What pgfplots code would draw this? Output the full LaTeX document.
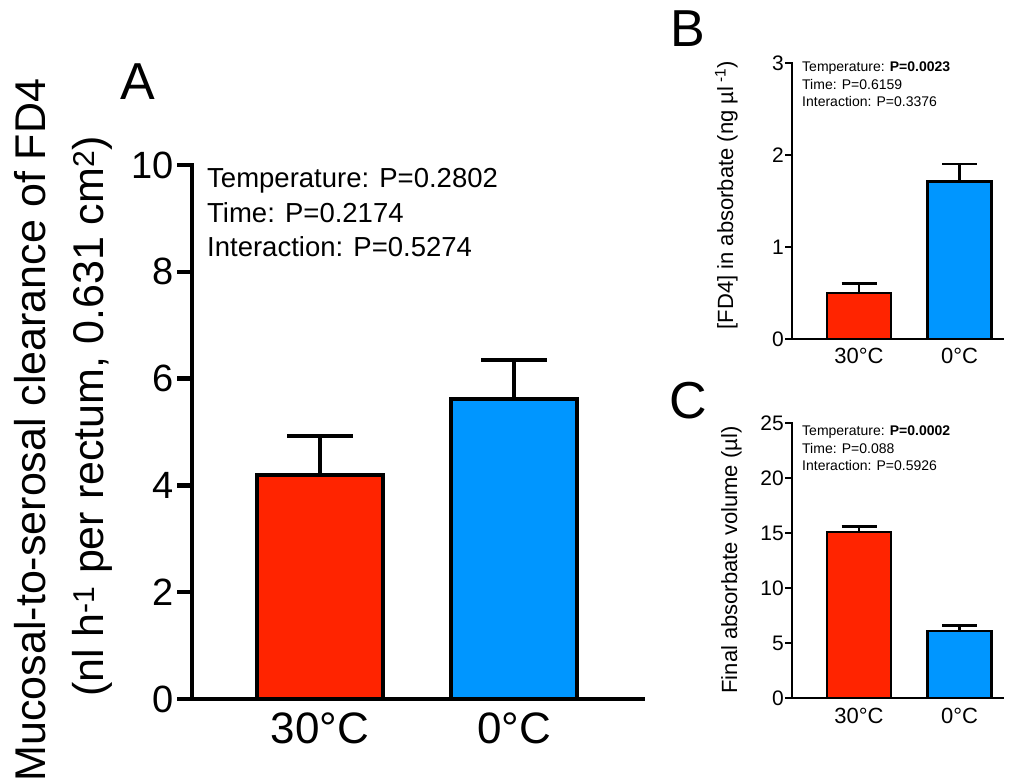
\documentclass[border=0pt]{standalone}
\usepackage{fontspec}
\setmainfont{Liberation Sans}
\usepackage{pgfplots}
\pgfplotsset{compat=1.18}
\definecolor{barred}{RGB}{255,36,0}
\definecolor{barblue}{RGB}{0,150,255}
\newcommand{\fs}[1]{\fontsize{#1bp}{#1bp}\selectfont}
\begin{document}
\begin{tikzpicture}[x=1bp,y=1bp]
\path[use as bounding box] (0,0) rectangle (1019,782);

% ---------------- Panel A ----------------
\begin{axis}[at={(192bp,83bp)}, anchor=south west, scale only axis,
 width=451bp, height=534bp,
 xmin=-0.66, xmax=1.665, ymin=0, ymax=10,
 axis x line=bottom, axis y line=left,
 axis line style={-, black, line width=4.5bp, line cap=rect},
 xtick={0,1}, xticklabels={30°C,0°C}, ytick={0,2,4,6,8,10},
 tick align=outside, major tick length=15bp,
 xtick style={draw=none}, ytick style={black, line width=4.5bp},
 /pgf/number format/assume math mode=true,
 yticklabel style={font=\fs{38}, inner sep=3bp},
 xticklabel style={font=\fs{44}, inner sep=0pt, yshift=1bp},
 clip=false]
\addplot[ybar, bar shift=0pt, bar width=0.65, fill=barred, draw=black, line width=4bp,
 error bars/.cd, y dir=plus, y explicit,
 error bar style={line width=4bp, black},
 error mark options={rotate=90, mark size=33bp, line width=4bp, black}]
 coordinates {(0,4.19) +- (0,0.74)};
\addplot[ybar, bar shift=0pt, bar width=0.65, fill=barblue, draw=black, line width=4bp,
 error bars/.cd, y dir=plus, y explicit,
 error bar style={line width=4bp, black},
 error mark options={rotate=90, mark size=33bp, line width=4bp, black}]
 coordinates {(1,5.61) +- (0,0.74)};
\end{axis}

% ---------------- Panel B ----------------
\begin{axis}[at={(792bp,443bp)}, anchor=south west, scale only axis,
 width=211bp, height=276bp,
 xmin=-0.667, xmax=1.433, ymin=0, ymax=3,
 axis x line=bottom, axis y line=left,
 axis line style={-, black, line width=2.5bp, line cap=rect},
 xtick={0,1}, xticklabels={30°C,0°C}, ytick={0,1,2,3},
 tick align=outside, major tick length=7bp,
 xtick style={draw=none}, ytick style={black, line width=2.5bp},
 /pgf/number format/assume math mode=true,
 yticklabel style={font=\fs{21}, inner sep=1bp},
 xticklabel style={font=\fs{22}, inner sep=0pt, yshift=-2bp},
 clip=false]
\addplot[ybar, bar shift=0pt, bar width=0.64, fill=barred, draw=black, line width=2.5bp,
 error bars/.cd, y dir=plus, y explicit,
 error bar style={line width=2.5bp, black},
 error mark options={rotate=90, mark size=17.5bp, line width=2.5bp, black}]
 coordinates {(0,0.50) +- (0,0.105)};
\addplot[ybar, bar shift=0pt, bar width=0.64, fill=barblue, draw=black, line width=2.5bp,
 error bars/.cd, y dir=plus, y explicit,
 error bar style={line width=2.5bp, black},
 error mark options={rotate=90, mark size=17.5bp, line width=2.5bp, black}]
 coordinates {(1,1.71) +- (0,0.19)};
\end{axis}

% ---------------- Panel C ----------------
\begin{axis}[at={(792bp,84bp)}, anchor=south west, scale only axis,
 width=211bp, height=275bp,
 xmin=-0.667, xmax=1.433, ymin=0, ymax=25,
 axis x line=bottom, axis y line=left,
 axis line style={-, black, line width=2.5bp, line cap=rect},
 xtick={0,1}, xticklabels={30°C,0°C}, ytick={0,5,10,15,20,25},
 tick align=outside, major tick length=7bp,
 xtick style={draw=none}, ytick style={black, line width=2.5bp},
 /pgf/number format/assume math mode=true,
 yticklabel style={font=\fs{21}, inner sep=1bp},
 xticklabel style={font=\fs{22}, inner sep=0pt, yshift=-3bp},
 clip=false]
\addplot[ybar, bar shift=0pt, bar width=0.64, fill=barred, draw=black, line width=2.5bp,
 error bars/.cd, y dir=plus, y explicit,
 error bar style={line width=2.5bp, black},
 error mark options={rotate=90, mark size=17.5bp, line width=2.5bp, black}]
 coordinates {(0,15.08) +- (0,0.52)};
\addplot[ybar, bar shift=0pt, bar width=0.64, fill=barblue, draw=black, line width=2.5bp,
 error bars/.cd, y dir=plus, y explicit,
 error bar style={line width=2.5bp, black},
 error mark options={rotate=90, mark size=17.5bp, line width=2.5bp, black}]
 coordinates {(1,6.10) +- (0,0.48)};
\end{axis}

% ---------------- Texts ----------------
\node[anchor=base, font=\fs{52}, inner sep=0] at (138,682) {A};
\node[anchor=base, font=\fs{52}, inner sep=0] at (688,735) {B};
\node[anchor=base, font=\fs{52}, inner sep=0] at (688,363) {C};

\node[anchor=base, rotate=90, font=\fs{43}, inner sep=0] at (45,352) {Mucosal-to-serosal clearance of FD4};
\node[anchor=base, rotate=90, font=\fs{43}, inner sep=0] at (103,365.5) {(nl h\textsuperscript{-1} per rectum, 0.631 cm\textsuperscript{2})};
\node[anchor=base, rotate=90, font=\fs{22}, inner sep=0] at (733,587) {[FD4] in absorbate (ng µl\textsuperscript{ -1})};
\node[anchor=base, rotate=90, font=\fs{22}, inner sep=0] at (737,222) {Final absorbate volume (µl)};

\node[anchor=base west, font=\fs{27.5}, inner sep=0] at (207,594) {Temperature: P=0.2802};
\node[anchor=base west, font=\fs{27.5}, inner sep=0] at (207,559.5) {Time: P=0.2174};
\node[anchor=base west, font=\fs{27.5}, inner sep=0] at (207,525) {Interaction: P=0.5274};

\node[anchor=base west, font=\fs{14}, inner sep=0] at (802,710) {Temperature: \textbf{P=0.0023}};
\node[anchor=base west, font=\fs{14}, inner sep=0] at (802,692.5) {Time: P=0.6159};
\node[anchor=base west, font=\fs{14}, inner sep=0] at (802,675) {Interaction: P=0.3376};

\node[anchor=base west, font=\fs{14}, inner sep=0] at (802,346) {Temperature: \textbf{P=0.0002}};
\node[anchor=base west, font=\fs{14}, inner sep=0] at (802,328.5) {Time: P=0.088};
\node[anchor=base west, font=\fs{14}, inner sep=0] at (802,311) {Interaction: P=0.5926};
\end{tikzpicture}
\end{document}
